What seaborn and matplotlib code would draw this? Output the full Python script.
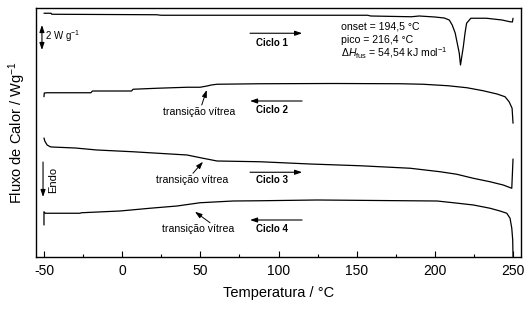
import numpy as np
import pandas as pd
import matplotlib
matplotlib.use("Agg")
import matplotlib.pyplot as plt
from matplotlib.ticker import MultipleLocator
import seaborn as sns

# DSC heat-flow curves (W/g, vertically offset) for four heating/cooling cycles
t_ciclo1 = [-50, -45.5, -45, 22, 25, 157, 159, 185, 190, 200, 206, 209.2, 211.1, 213.0,
            214.3, 215.6, 216.4, 218.2, 219.3, 220.3, 223.0, 233, 243, 248, 249.6, 250]
f_ciclo1 = [19.50, 19.50, 19.42, 19.38, 19.34, 19.34, 19.28, 19.22, 19.28, 19.20, 19.12, 18.96,
            18.56, 17.92, 17.12, 16.32, 15.36, 16.82, 17.92, 18.70, 19.10, 19.10, 18.96, 18.82,
            18.80, 19.10]

t_ciclo2 = [-50, -49.8, -48, -20, -19, 6, 7, 22.3, 41.5, 49.8, 54.3, 57, 60.7, 88, 135, 178,
            192.5, 208.5, 220.6, 230.9, 239.8, 244.9, 247.5, 249.4, 250]
f_ciclo2 = [12.82, 13.12, 13.14, 13.14, 13.28, 13.28, 13.42, 13.50, 13.58, 13.58, 13.68, 13.76,
            13.82, 13.86, 13.88, 13.86, 13.82, 13.70, 13.54, 13.30, 13.04, 12.82, 12.42, 11.90,
            10.70]

t_ciclo3 = [-50, -49.5, -48, -46, -45, -30, -16.1, 6.9, 41.5, 51.7, 60.7, 88.2, 120.2, 152.2,
            184.2, 203.4, 214, 224.5, 235.3, 243.7, 249.2, 250]
f_ciclo3 = [9.52, 9.28, 8.96, 8.82, 8.80, 8.72, 8.56, 8.42, 8.16, 7.90, 7.68, 7.62, 7.44, 7.30,
            7.10, 6.82, 6.62, 6.30, 6.02, 5.76, 5.50, 7.84]

t_ciclo4 = [-50, -50, -49.2, -27, -26, -1.4, 17.8, 35.1, 49.8, 70.9, 88.2, 124.7, 201.4, 211.9,
            224.7, 235.3, 241.7, 246, 248.1, 249.2, 249.8, 250]
f_ciclo4 = [2.56, 3.62, 3.50, 3.50, 3.54, 3.68, 3.90, 4.08, 4.34, 4.48, 4.50, 4.56, 4.48, 4.34,
            4.16, 3.90, 3.68, 3.50, 3.10, 2.30, 1.36, 0.02]

ciclos = ["Ciclo 1", "Ciclo 2", "Ciclo 3", "Ciclo 4"]
temps = [t_ciclo1, t_ciclo2, t_ciclo3, t_ciclo4]
fluxos = [f_ciclo1, f_ciclo2, f_ciclo3, f_ciclo4]

# cycle label positions (heat flow) and scan direction (+1 heating, -1 cooling)
label_y = [17.10, 11.76, 6.16, 2.24]
arrow_y = [17.90, 12.48, 6.78, 2.96]
direcao = [1, -1, 1, -1]

# glass transition pointers: text position and curve point
tg_text = [(49.5, 11.62), (44.7, 6.16), (48.8, 2.24)]
tg_tail = [(50.9, 12.16), (45.3, 6.70), (56.2, 2.74)]
tg_head = [(54.1, 13.36), (51.7, 7.62), (46.6, 3.62)]

onset = 194.5
pico = 216.4
dh_fus = 54.54

frames = []
for nome, t, f in zip(ciclos, temps, fluxos):
    frames.append(pd.DataFrame({"T": t, "fluxo": f, "ciclo": nome,
                                "ordem": np.arange(len(t))}))
df = pd.concat(frames, ignore_index=True)

sns.set_theme(style="ticks")
plt.rcParams["font.family"] = ["Liberation Sans", "DejaVu Sans"]
plt.rcParams["mathtext.fontset"] = "custom"
plt.rcParams["mathtext.rm"] = "Liberation Sans"
plt.rcParams["mathtext.it"] = "Liberation Sans:italic"
plt.rcParams["axes.unicode_minus"] = False
plt.rcParams["text.color"] = "black"
plt.rcParams["axes.labelcolor"] = "black"
plt.rcParams["xtick.color"] = "black"
plt.rcParams["xtick.labelcolor"] = "black"

fig = plt.figure(figsize=(5.29, 3.23), dpi=100)
ax = fig.add_axes([36 / 529, 66 / 323, 485 / 529, 249 / 323])

sns.lineplot(data=df, x="T", y="fluxo", units="ciclo", estimator=None, sort=False,
             color="black", lw=0.9, ax=ax)

ax.set_xlim(-55.1, 255.1)
ax.set_ylim(0, 19.92)
ax.set_yticks([])
ax.xaxis.set_major_locator(MultipleLocator(50))
ax.xaxis.set_minor_locator(MultipleLocator(25))
ax.tick_params(axis="x", which="major", direction="in", length=4.5, width=0.8,
               labelsize=10, pad=5, colors="black")
ax.tick_params(axis="x", which="minor", direction="in", length=2.2, width=0.8,
               colors="black")
for s in ax.spines.values():
    s.set_visible(True)
    s.set_linewidth(1.0)
    s.set_color("black")

ax.set_xlabel("Temperatura / °C", fontsize=10.5, labelpad=5.5, color="black")
ax.set_ylabel("Fluxo de Calor / Wg$^{-1}$", fontsize=10.5, labelpad=6, color="black")

arrow_kw = dict(arrowstyle="-|>,head_length=0.35,head_width=0.12",
                color="black", shrinkA=0, shrinkB=0)

# cycle labels with scan-direction arrows
for nome, ly, ay, d in zip(ciclos, label_y, arrow_y, direcao):
    x0, x1 = (81.8, 115.1) if d > 0 else (115.1, 81.8)
    ax.annotate("", xy=(x1, ay), xytext=(x0, ay), arrowprops=dict(arrow_kw, lw=0.8))
    ax.text(95.9, ly, nome, fontsize=7, fontweight="bold", ha="center", va="center")

# glass transition markers
for (tx, ty), tail, head in zip(tg_text, tg_tail, tg_head):
    ax.text(tx, ty, "transição vítrea", fontsize=7.6, ha="center", va="center")
    ax.annotate("", xy=head, xytext=tail, arrowprops=dict(arrow_kw, lw=0.7))

# melting event details
ax.text(140.0, 18.42, f"onset = {onset:.1f} °C".replace(".", ","), fontsize=7.6, va="center")
ax.text(140.0, 17.36, f"pico = {pico:.1f} °C".replace(".", ","), fontsize=7.6, va="center")
ax.text(140.0, 16.30, r"$\Delta H_{\rm fus}$ = " + f"{dh_fus:.2f}".replace(".", ",")
        + r" kJ mol$^{-1}$", fontsize=7.6, va="center")

# 2 W/g scale bar
ax.annotate("", xy=(-51.3, 16.56), xytext=(-51.3, 18.56),
            arrowprops=dict(arrow_kw, arrowstyle="<|-|>,head_length=0.35,head_width=0.12",
                            lw=0.8))
ax.text(-49.6, 17.68, "2 W g$^{-1}$", fontsize=7, va="center", ha="left")

# endothermic direction
ax.annotate("", xy=(-50.6, 4.8), xytext=(-50.6, 7.6), arrowprops=dict(arrow_kw, lw=0.8))
ax.text(-44.4, 6.16, "Endo", fontsize=8, rotation=90, ha="center", va="center")

fig.savefig("out.png", dpi=100, facecolor="white")
